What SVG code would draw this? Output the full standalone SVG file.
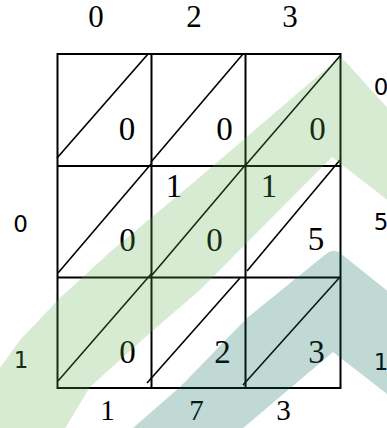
<svg xmlns="http://www.w3.org/2000/svg" width="387" height="428" viewBox="0 0 387 428">
<style>
.grid{fill:none;stroke:#000;stroke-width:2}
.diag{stroke:#000;stroke-width:1.6;fill:none}
.serif{font-family:"Liberation Serif","Times New Roman",serif;fill:#000;text-anchor:middle}
.sans{font-family:"DejaVu Sans",sans-serif;fill:#000;text-anchor:middle}
.wm-g{fill:#5fae4d;fill-opacity:0.25}
.wm-t{fill:#086858;fill-opacity:0.25}
</style>
<rect width="387" height="428" fill="#fff"/>
<g id="top-labels" font-size="31">
<text class="serif" x="96" y="27" font-size="31">0</text>
<text class="serif" x="194" y="27" font-size="31">2</text>
<text class="serif" x="290" y="27" font-size="31">3</text>
</g>
<g id="grid">
<rect class="grid" x="57.5" y="54" width="283" height="334"/>
<line class="grid" x1="151.5" y1="54" x2="151.5" y2="388"/>
<line class="grid" x1="245.5" y1="54" x2="245.5" y2="388"/>
<line class="grid" x1="57.5" y1="166" x2="340.5" y2="166"/>
<line class="grid" x1="57.5" y1="277.5" x2="340.5" y2="277.5"/>
</g>
<g id="connectors">
<line class="diag" x1="57" y1="158" x2="148" y2="54"/>
<line class="diag" x1="151" y1="162" x2="243" y2="54"/>
<line class="diag" x1="244" y1="167" x2="340" y2="56"/>
<line class="diag" x1="58" y1="273" x2="151" y2="164"/>
<line class="diag" x1="152" y1="275" x2="247" y2="163"/>
<line class="diag" x1="247" y1="271" x2="340" y2="160"/>
<line class="diag" x1="58" y1="381" x2="152" y2="273"/>
<line class="diag" x1="147" y1="383" x2="240" y2="278"/>
<line class="diag" x1="243" y1="385" x2="340" y2="277"/>
</g>
<g id="cells" font-size="33">
<text class="serif" font-size="33" x="127" y="140">0</text>
<text class="serif" font-size="33" x="224.5" y="140">0</text>
<text class="serif" font-size="33" x="317.5" y="140">0</text>
<text class="serif" font-size="33" x="174" y="197">1</text>
<text class="serif" font-size="33" x="269" y="197">1</text>
<text class="serif" font-size="33" x="127.5" y="251">0</text>
<text class="serif" font-size="33" x="214.5" y="251">0</text>
<text class="serif" font-size="33" x="316" y="250">5</text>
<text class="serif" font-size="33" x="127.5" y="363">0</text>
<text class="serif" font-size="33" x="222.5" y="363">2</text>
<text class="serif" font-size="33" x="316.5" y="363">3</text>
</g>
<g id="bottom-labels" font-size="29">
<text class="serif" font-size="29" x="107.5" y="420">1</text>
<text class="serif" font-size="29" x="196.5" y="420">7</text>
<text class="serif" font-size="29" x="283.5" y="420">3</text>
</g>
<g id="side-labels" font-size="23">
<text class="sans" font-size="23" x="20.5" y="232">0</text>
<text class="sans" font-size="23" x="21" y="368">1</text>
<text class="sans" font-size="23" x="381" y="95">0</text>
<text class="sans" font-size="23" x="381" y="230">5</text>
<text class="sans" font-size="23" x="381" y="370">1</text>
</g>
<g id="watermark">
<path class="wm-g" d="M-10,382 L20,340 L60,298 L110,252 L200,177 L334,62 Q340,56 346,62 L400,122 L400,210 L332,157 L200,290 L150,333 L90,387 L58,440 L-10,440 Z"/>
<path class="wm-t" d="M118,440 L133,428 L180,387 L247,318 L326,254 Q333,248 340,253 L400,301 L400,404 L333,352 L229,440 Z"/>
</g>
</svg>
